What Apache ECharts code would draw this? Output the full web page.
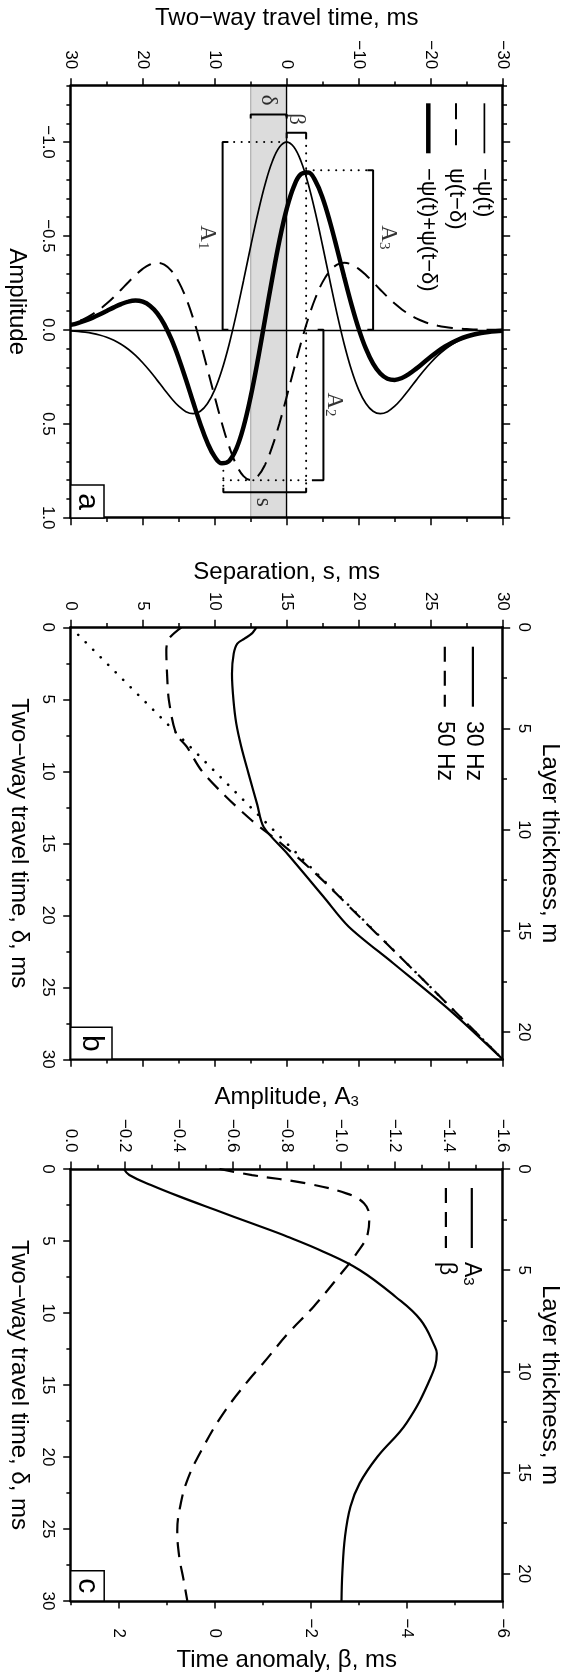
<!DOCTYPE html>
<html lang="en">
<head>
<meta charset="UTF-8">
<title>Wavelet interference in a thin layer</title>
<script src="https://cdn.jsdelivr.net/npm/echarts@6/dist/echarts.min.js"></script>
<style>body{margin:0;background:#fff}</style>
</head>
<body>
<div id="main" style="width:565px;height:1677px;"></div>
<script>
// ---- panel a: wavelets, time in ms, amplitude ----
var times = [-30,-29,-28,-27,-26,-25,-24,-23,-22,-21,-20,-19,-18,-17,-16,-15,-14,-13,-12,-11,-10,-9,-8,-7,-6,-5,-4,-3,-2,-1,
  0,1,2,3,4,5,6,7,8,9,10,11,12,13,14,15,16,17,18,19,20,21,22,23,24,25,26,27,28,29,30];
var negPsi = [0.0051,0.0080,0.0122,0.0184,0.0272,0.0392,0.0554,0.0765,0.1032,0.1360,0.1749,0.2192,0.2675,0.3174,0.3651,0.4062,
  0.4353,0.4463,0.4336,0.3924,0.3195,0.2138,0.0776,-0.0838,-0.2618,-0.4452,-0.6209,-0.7756,-0.8965,-0.9736,-1.0,
  -0.9736,-0.8965,-0.7756,-0.6209,-0.4452,-0.2618,-0.0838,0.0776,0.2138,0.3195,0.3924,0.4336,0.4463,0.4353,0.4062,
  0.3651,0.3174,0.2675,0.2192,0.1749,0.1360,0.1032,0.0765,0.0554,0.0392,0.0272,0.0184,0.0122,0.0080,0.0051];
var psiShift = [-0.0003,-0.0006,-0.0009,-0.0015,-0.0025,-0.0040,-0.0064,-0.0098,-0.0147,-0.0217,-0.0314,-0.0443,-0.0612,-0.0826,
  -0.1088,-0.1399,-0.1753,-0.2140,-0.2539,-0.2921,-0.3250,-0.3482,-0.3570,-0.3469,-0.3139,-0.2556,-0.1710,-0.0621,0.0670,0.2094,
  0.3561,0.4967,0.6205,0.7172,0.7788,0.8,0.7788,0.7172,0.6205,0.4967,0.3561,0.2094,0.0670,-0.0621,-0.1710,-0.2556,-0.3139,
  -0.3469,-0.3570,-0.3482,-0.3250,-0.2921,-0.2539,-0.2140,-0.1753,-0.1399,-0.1088,-0.0826,-0.0612,-0.0443,-0.0314];
var psiSum = [0.0048,0.0074,0.0113,0.0169,0.0247,0.0352,0.0490,0.0667,0.0885,0.1143,0.1435,0.1749,0.2063,0.2348,0.2563,0.2663,
  0.2600,0.2323,0.1797,0.1003,-0.0055,-0.1344,-0.2794,-0.4307,-0.5757,-0.7008,-0.7919,-0.8377,-0.8295,-0.7642,
  -0.6439,-0.4769,-0.2760,-0.0584,0.1579,0.3548,0.5170,0.6334,0.6981,0.7105,0.6756,0.6018,0.5006,0.3842,0.2643,0.1506,
  0.0512,-0.0295,-0.0895,-0.1290,-0.1501,-0.1561,-0.1507,-0.1375,-0.1199,-0.1007,-0.0816,-0.0642,-0.0490,-0.0363,-0.0263];

// annotation geometry of panel a (time ms, amplitude)
var bracketDelta = [[5,-1.125],[5,-1.147],[0,-1.147],[0,-1.125]];
var bracketBeta = [[0,-1.02],[0,-1.05],[-2.7,-1.05],[-2.7,-1.02]];
var bracketA1 = [[8.1,-1.0],[8.9,-1.0],[8.9,0],[8.1,0]];
var bracketA3 = [[-11.2,-0.85],[-12.0,-0.85],[-12.0,0],[-11.2,0]];
var bracketA2 = [[-4.3,0],[-5.1,0],[-5.1,0.8],[-3.5,0.8]];
var bracketS = [[8.8,0.84],[8.8,0.865],[-2.7,0.865],[-2.7,0.84]];
var dotLines = [
  [[0,-1.0],[8.1,-1.0]],
  [[-2.7,-1.02],[-2.7,0.84]],
  [[-2.7,-0.85],[-11.2,-0.85]],
  [[8.8,0.71],[8.8,0.84]],
  [[8.8,0.8],[-3.5,0.8]]
];
var noteText = ['\u03b4', '\u03b2', 'A{s|1}', 'A{s|2}', 'A{s|3}', 's'];
var noteT = [2.5, -1.4, 11.0, -6.6, -14.1, 3.25];
var noteAmp = [-1.22, -1.12, -0.49, 0.40, -0.49, 0.92];

// ---- panel b: separation vs two-way time ----
var delay30 = [0, 0.44, 0.79, 1.13, 1.83, 3.22, 5.02, 6.69, 8.31, 10.16, 12.3, 13.87, 15.74, 18.71, 20.79, 23.33, 26.57, 30];
var sep30 = [12.9, 12.57, 12.07, 11.57, 11.32, 11.2, 11.3, 11.5, 11.85, 12.35, 12.95, 13.4, 15.06, 17.56, 19.31, 22.4, 26.3, 30];
var delay50 = [0, 0.79, 1.6, 3.2, 5.07, 7.38, 8.31, 9.93, 11.55, 13.4, 15.0, 17.0, 20, 25, 30];
var sep50 = [7.69, 6.82, 6.64, 6.69, 6.82, 7.32, 8.07, 9.07, 10.57, 12.56, 14.6, 16.9, 19.95, 25, 30];
var delayRef = [0, 30];
var sepRef = [0, 30];

// ---- panel c: amplitude A3 and time anomaly beta ----
var delayA3 = [0, 0.42, 1.11, 1.92, 2.85, 3.77, 4.70, 5.74, 7.01, 8.87, 10.49, 12.34, 12.8, 14.5, 17.66, 19.98, 21.83, 23.45, 25.53, 28.07, 30];
var ampA3 = [-0.197, -0.217, -0.297, -0.404, -0.537, -0.670, -0.803, -0.936, -1.070, -1.203, -1.296, -1.349, -1.356, -1.333, -1.243, -1.136, -1.070, -1.036, -1.016, -1.006, -1.003];
var delayBeta = [0, 0.42, 1.0, 1.69, 2.38, 3.31, 4.47, 5.85, 7.48, 9.56, 11.41, 13.49, 14.65, 16.97, 19.5, 21.6, 23.45, 25.1, 26.9, 28.5, 30];
var beta = [-0.10, -0.78, -1.91, -2.74, -3.11, -3.22, -3.19, -2.96, -2.58, -2.06, -1.53, -1.01, -0.71, -0.18, 0.27, 0.57, 0.72, 0.78, 0.74, 0.65, 0.57];

// ---- tick values ----
var timeTicks = [-30, -20, -10, 0, 10, 20, 30];
var timeMinor = [-30, -25, -20, -15, -10, -5, 0, 5, 10, 15, 20, 25, 30];
var ampTicks = [-1.0, -0.5, 0.0, 0.5, 1.0];
var ampMinor = [-1.3, -1.2, -1.1, -1.0, -0.9, -0.8, -0.7, -0.6, -0.5, -0.4, -0.3, -0.2, -0.1, 0, 0.1, 0.2, 0.3, 0.4, 0.5, 0.6, 0.7, 0.8, 0.9, 1.0];
var msTicks = [0, 5, 10, 15, 20, 25, 30];
var msMinor = [0, 2.5, 5, 7.5, 10, 12.5, 15, 17.5, 20, 22.5, 25, 27.5, 30];
var thickTicks = [0, 5, 10, 15, 20];
var thickMinor = [0, 2.5, 5, 7.5, 10, 12.5, 15, 17.5, 20];
var thickMax = 21.35;
var a3Ticks = [0, -0.2, -0.4, -0.6, -0.8, -1.0, -1.2, -1.4, -1.6];
var a3Minor = [0, -0.1, -0.2, -0.3, -0.4, -0.5, -0.6, -0.7, -0.8, -0.9, -1.0, -1.1, -1.2, -1.3, -1.4, -1.5, -1.6];
var betaTicks = [2, 0, -2, -4, -6];
var betaMinor = [3, 2, 1, 0, -1, -2, -3, -4, -5, -6];

var SANS = 'Liberation Sans, Arial, sans-serif';
var SERIF = 'Liberation Serif, Times New Roman, serif';
var X0 = 70.7, W = 432;
var tops = [85.7, 627.3, 1169];

function zip(a, b) { return a.map(function (v, i) { return [v, b[i]]; }); }
function fmt(d) {
  return function (v) { return (d ? Number(v).toFixed(d) : String(v)).replace('-', '\u2212'); };
}

// one side of a frame: main axis (line, major ticks, labels) plus an overlay for minor ticks
function side(gi, pos, min, max, inv, major, minor, lab) {
  var base = { type: 'value', gridIndex: gi, position: pos, min: min, max: max, inverse: !!inv,
    splitLine: { show: false }, z: 10 };
  // echarts flips the label rotation on top axes, so +90 there is still clockwise
  var rot = pos === 'top' ? 90 : -90;
  var main = Object.assign({}, base, {
    axisLine: { show: true, onZero: false, lineStyle: { color: '#000', width: 2.5 } },
    axisTick: { show: true, customValues: major, length: 7.5, lineStyle: { color: '#000', width: 1.5 } },
    axisLabel: lab ? { show: true, customValues: major, rotate: rot, color: '#000', fontFamily: SANS, fontSize: 17,
      margin: lab.margin, align: lab.align, verticalAlign: 'middle', formatter: lab.fmt,
      showMinLabel: true, showMaxLabel: true } : { show: false }
  });
  var sub = Object.assign({}, base, {
    axisLine: { show: false, onZero: false },
    axisTick: { show: true, customValues: minor, length: 4.3, lineStyle: { color: '#000', width: 1.5 } },
    axisLabel: { show: false }
  });
  return [main, sub];
}

var topLab = function (f) { return { margin: 16.5, align: 'right', fmt: f }; };
var leftLab = function (f) { return { margin: 23.5, align: 'center', fmt: f }; };
var rightLab = function (f) { return { margin: 21, align: 'center', fmt: f }; };

var xAxes = [].concat(
  side(0, 'top', -30, 30, true, timeTicks, timeMinor, topLab(fmt(0))),
  side(0, 'bottom', -30, 30, true, timeTicks, timeMinor, null),
  side(1, 'top', 0, 30, false, msTicks, msMinor, topLab(fmt(0))),
  side(1, 'bottom', 0, 30, false, msTicks, msMinor, null),
  side(2, 'top', -1.6, 0, true, a3Ticks, a3Minor, topLab(fmt(1))),
  side(2, 'bottom', -6, 3, true, betaTicks, betaMinor, { margin: 37, align: 'right', fmt: fmt(0) })
);
var yAxes = [].concat(
  side(0, 'left', -1.3, 1.0, true, ampTicks, ampMinor, leftLab(fmt(1))),
  side(0, 'right', -1.3, 1.0, true, ampTicks, ampMinor, null),
  side(1, 'left', 0, 30, true, msTicks, msMinor, leftLab(fmt(0))),
  side(1, 'right', 0, thickMax, true, thickTicks, thickMinor, rightLab(fmt(0))),
  side(2, 'left', 0, 30, true, msTicks, msMinor, leftLab(fmt(0))),
  side(2, 'right', 0, thickMax, true, thickTicks, thickMinor, rightLab(fmt(0)))
);

function curve(data, xi, yi, width, type, extra) {
  return Object.assign({ type: 'line', xAxisIndex: xi, yAxisIndex: yi, data: data, symbol: 'none', z: 3,
    animation: false, lineStyle: { color: '#000', width: width, type: type || 'solid' } }, extra || {});
}
var dotted = function (w, gap) { return { color: '#000', width: w, type: [0.1, gap], cap: 'round' }; };

var series = [];
// grey band and zero lines of panel a
series.push({ type: 'line', xAxisIndex: 0, yAxisIndex: 0, data: [], z: 1,
  markArea: { silent: true, itemStyle: { color: '#dcdcdc', borderColor: '#b0b0b0', borderWidth: 1.2 },
    data: [[{ xAxis: 5 }, { xAxis: 0 }]] },
  markLine: { silent: true, symbol: 'none', label: { show: false },
    lineStyle: { color: '#000', width: 1.3, type: 'solid' }, data: [{ yAxis: 0 }, { xAxis: 0 }] } });
series.push(curve(zip(times, negPsi), 0, 0, 1.7, 'solid', { smooth: 0.4 }));
series.push(curve(zip(times, psiShift), 0, 0, 2, [16, 9], { smooth: 0.4 }));
series.push(curve(zip(times, psiSum), 0, 0, 4.5, 'solid', { smooth: 0.4 }));
[bracketDelta, bracketBeta, bracketA1, bracketA3, bracketA2, bracketS].forEach(function (b) {
  series.push(curve(b, 0, 0, 2, 'solid', { z: 4 }));
});
dotLines.forEach(function (d) {
  series.push(curve(d, 0, 0, 2, 'solid', { z: 4, lineStyle: dotted(2, 7.4) }));
});
series.push({ type: 'scatter', xAxisIndex: 0, yAxisIndex: 0, symbolSize: 1, z: 5, animation: false,
  itemStyle: { color: 'rgba(0,0,0,0)' },
  data: noteText.map(function (t, i) { return { name: t, value: [noteT[i], noteAmp[i]] }; }),
  label: { show: true, position: [0, 0], align: 'center', verticalAlign: 'middle', rotate: -90,
    color: '#000', textBorderWidth: 0, fontFamily: SERIF, fontSize: 23,
    formatter: function (p) { return p.name; },
    rich: { s: { fontFamily: SERIF, fontSize: 15, verticalAlign: 'bottom', color: '#000', textBorderWidth: 0 } } } });

// panel b
series.push(curve(zip(sepRef, delayRef), 4, 4, 2, 'solid', { lineStyle: dotted(2.6, 10.5) }));
series.push(curve(zip(sep50, delay50), 4, 4, 2.2, [15, 9], { smooth: 0.3 }));
series.push(curve(zip(sep30, delay30), 4, 4, 2.2, 'solid', { smooth: 0.3 }));

// panel c
series.push(curve(zip(ampA3, delayA3), 8, 8, 2.2, 'solid', { smooth: 0.4 }));
series.push(curve(zip(beta, delayBeta), 10, 8, 2.2, [15, 9], { smooth: 0.4 }));

// texts, legends and panel tags
function txt(x, y, text, size, rot, align, family, rich) {
  return { type: 'text', x: x, y: y, rotation: rot ? -Math.PI / 2 : 0, z: 30,
    style: { text: text, fill: '#000', font: size + 'px ' + (family || SANS), align: align || 'center',
      textAlign: align || 'center', verticalAlign: 'middle', textVerticalAlign: 'middle', rich: rich } };
}
function seg(x, y1, y2, w, dash) {
  return { type: 'line', z: 30, shape: { x1: x, y1: y1, x2: x, y2: y2 },
    style: { stroke: '#000', lineWidth: w, lineDash: dash || null } };
}
function tag(x, y, w, h, letter) {
  return [{ type: 'rect', z: 30, shape: { x: x, y: y, width: w, height: h },
      style: { fill: '#fff', stroke: '#000', lineWidth: 1.5 } },
    txt(x + w / 2, y + h / 2, letter, 30, true)];
}
var subRich = { s: { fontSize: 15, verticalAlign: 'bottom', fill: '#000', fontFamily: SANS } };
var cx = X0 + W / 2;
var graphic = [
  txt(cx, 18.3, 'Two\u2212way travel time, ms', 24),
  txt(17, tops[0] + W / 2, 'Amplitude', 24, true),
  txt(cx, 572, 'Separation, s, ms', 24),
  txt(18.5, tops[1] + W / 2, 'Two\u2212way travel time, \u03b4, ms', 24, true),
  txt(550, tops[1] + W / 2, 'Layer thickness, m', 24, true),
  txt(cx, 1097, 'Amplitude, A{s|3}', 24, false, 'center', SANS, subRich),
  txt(18.5, tops[2] + W / 2, 'Two\u2212way travel time, \u03b4, ms', 24, true),
  txt(550, tops[2] + W / 2, 'Layer thickness, m', 24, true),
  txt(cx, 1660, 'Time anomaly, \u03b2, ms', 24),
  // legend a
  seg(484.4, 103.3, 153.3, 1.7), seg(456, 103.3, 153.3, 2, [16, 10]), seg(428.3, 103.3, 153.3, 4.5),
  txt(484.4, 168, '\u2212\u03c8(t)', 22, true, 'left'),
  txt(456, 168, '\u03c8(t\u2212\u03b4)', 22, true, 'left'),
  txt(428.3, 168, '\u2212\u03c8(t)+\u03c8(t\u2212\u03b4)', 22, true, 'left'),
  // legend b
  seg(472.9, 646.7, 706.7, 2.2), seg(444.8, 646.7, 706.7, 2.2, [15, 9]),
  txt(472.9, 721, '30 Hz', 23, true, 'left'),
  txt(444.8, 721, '50 Hz', 23, true, 'left'),
  // legend c
  seg(471.8, 1188, 1248, 2.2), seg(445.9, 1188, 1248, 2.2, [15, 9]),
  txt(471.8, 1262, 'A{s|3}', 23, true, 'left', SANS, subRich),
  txt(445.9, 1262, '\u03b2', 23, true, 'left')
].concat(tag(X0, 485, 33.3, 33, 'a'), tag(X0, 1027.3, 41.3, 32, 'b'), tag(X0, 1570.7, 33.5, 30.3, 'c'));

var chart = echarts.init(document.getElementById('main'));
chart.setOption({
  animation: false,
  backgroundColor: '#fff',
  grid: tops.map(function (t) {
    return { left: X0, top: t, width: W, height: W, containLabel: false, outerBoundsMode: 'none' };
  }),
  xAxis: xAxes,
  yAxis: yAxes,
  series: series,
  graphic: graphic
});
</script>
</body>
</html>
